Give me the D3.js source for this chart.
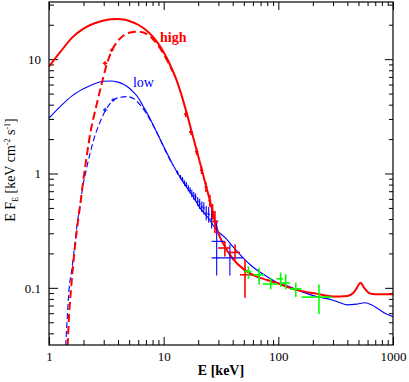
<!DOCTYPE html>
<meta charset="utf-8">
<style>
body { margin: 0; background: #fff; }
svg text { font-family: "Liberation Serif", "Times New Roman", serif; fill: #000; }
.axis path { display: none; }
.axis line { stroke: #000; stroke-width: 1; }
.axis text { font-size: 13px; font-family: "Liberation Serif", serif; }
</style>
<svg id="chart"></svg>
<script src="https://d3js.org/d3.v7.min.js"></script>
<script>

// model curves: [E (keV), E F_E]
var highModel = [[1,8.6],[1.25,11.5],[1.6,15.5],[2,18.5],[2.5,20.6],[3,21.8],[3.5,22.3],[4,22.4],
  [4.5,22.2],[5,21.6],[6,20.0],[7,18.0],[8,15.8],[9,13.6],[10,11.5],[11,9.6],[12,7.9],[13,6.5],
  [14,5.2],[15.6,3.6],[17.3,2.45],[19.4,1.6],[21.4,1.1],[23.4,0.78],[24.5,0.66],[26,0.52],[28,0.38],
  [30,0.30],[33,0.245],[40,0.18],[50,0.145],[60,0.13],[80,0.117],[100,0.109],[126,0.1],[150,0.095],
  [215,0.089],[300,0.084],[400,0.085],[450,0.09],[490,0.102],[520,0.111],[560,0.1],[620,0.09],
  [700,0.088],[1000,0.088]];
var highAbsorbed = [[1.4,0.015],[1.45,0.03],[1.5,0.06],[1.56,0.1],[1.6,0.135],[1.7,0.25],[1.8,0.4],
  [1.9,0.6],[2,0.9],[2.15,1.5],[2.3,2.3],[2.45,3.1],[2.6,4.0],[2.88,6.1],[3.19,9.0],[3.52,11.8],
  [4,14.5],[4.5,16.2],[5.1,17.1],[6,17.4],[7,16.7],[8,15.1],[9,13.1],[10,11.1],[11,9.3],[12,7.8]];
var lowModel = [[1,3.05],[1.25,3.85],[1.6,4.8],[2,5.5],[2.5,6.1],[3,6.4],[3.4,6.45],[4,6.3],[4.5,6.0],
  [5,5.6],[5.5,5.1],[6,4.6],[6.6,3.9],[7.5,3.1],[8.5,2.4],[10,1.72],[12,1.2],[14,0.92],[16,0.75],
  [18,0.63],[20.7,0.5],[24.4,0.41],[29,0.32],[35,0.27],[40,0.23],[50,0.18],[56.5,0.16],[80,0.125],
  [100,0.11],[126,0.102],[150,0.095],[215,0.084],[300,0.078],[346,0.074],[400,0.071],[480,0.072],
  [570,0.074],[650,0.071],[750,0.065],[850,0.06],[1000,0.056]];
var lowAbsorbed = [[1.35,0.015],[1.4,0.0316],[1.45,0.06],[1.5,0.1],[1.58,0.144],[1.685,0.246],
  [1.765,0.37],[1.86,0.515],[1.95,0.72],[2.1,1.05],[2.3,1.55],[2.5,2.1],[2.7,2.6],[3.08,3.5],
  [3.62,4.35],[4.2,4.65],[4.8,4.7],[5.5,4.5],[6.2,4.0],[7,3.4],[8,2.7],[9,2.15],[10,1.7],[11,1.4],[12,1.18]];

// data: [E, Elo, Ehi, value, vlo, vhi]
var highData = [[3.08,2.95,3.22,9.2,8.8,9.6],[3.52,3.4,3.65,12.0,11.6,12.4],
  [15.6,15.0,16.2,3.3,3.1,3.5],[17.3,16.6,18.0,2.3,2.17,2.45],[19.4,18.7,20.1,1.55,1.45,1.66],
  [21.4,20.7,22.1,1.07,0.99,1.16],[23.4,22.7,24.1,0.76,0.69,0.84],[25.3,24.5,26.0,0.58,0.51,0.65],
  [26.7,26.0,27.5,0.46,0.4,0.54],[28,26.2,29.9,0.38,0.3,0.47],[34.2,29.9,37.8,0.223,0.188,0.255],
  [41.9,37.8,46.3,0.204,0.176,0.239],[51.2,46.3,60.4,0.13,0.082,0.176]];
var lowData = [[3.08,2.95,3.22,3.6,3.45,3.75],[3.62,3.5,3.75,4.4,4.25,4.55],
  [13.2,12.9,13.5,1.02,0.98,1.06],[14.0,13.7,14.3,0.93,0.89,0.97],[14.6,14.3,14.9,0.88,0.84,0.93],
  [15.2,14.9,15.5,0.82,0.78,0.87],[15.8,15.5,16.1,0.79,0.75,0.84],[16.4,16.1,16.7,0.74,0.7,0.79],
  [17.0,16.7,17.3,0.71,0.67,0.76],[17.6,17.3,17.9,0.67,0.62,0.72],[18.3,18.0,18.6,0.64,0.59,0.69],
  [19.0,18.7,19.3,0.62,0.57,0.67],[19.8,19.4,20.2,0.57,0.52,0.62],[20.6,20.2,21.0,0.54,0.49,0.6],
  [21.5,21.0,22.0,0.51,0.46,0.57],[22.4,22.0,22.9,0.5,0.44,0.56],[23.5,22.9,24.1,0.45,0.39,0.52],
  [24.7,24.1,25.4,0.44,0.37,0.51],[26.2,25.4,27.0,0.4,0.33,0.48],[29,26.2,34.2,0.255,0.128,0.39],
  [37.8,26.2,49.4,0.183,0.128,0.239]];
var hardData = [[54.8,50.5,58.5,0.139,0.12,0.154],[68,61,75,0.13,0.107,0.149],
  [85.8,73.3,99,0.108,0.097,0.123],[104.9,96,110,0.12,0.102,0.136],[116,106,126,0.11,0.097,0.131],
  [142,126,159,0.098,0.083,0.111],[226,160,292,0.083,0.059,0.107]];

var xMajor = [1, 10, 100, 1000],
    xLabels = ["1", "10", "100", "1000"],
    yMajor = [0.1, 1, 10],
    yLabels = ["0.1", "1", "10"];

var width = 409, height = 382,
    margin = {top: 2, right: 16, bottom: 37, left: 49},
    w = width - margin.left - margin.right,
    h = height - margin.top - margin.bottom;

var x = d3.scaleLog().domain([1, 1000]).range([0, w]);
var y = d3.scaleLog().domain([Math.pow(10, -1.5), Math.pow(10, 1.5)]).range([h, 0]);

var svg = d3.select("#chart").attr("width", width).attr("height", height);
var g = svg.append("g").attr("transform", "translate(" + margin.left + "," + margin.top + ")");

g.append("clipPath").attr("id", "clip")
  .append("rect").attr("width", w).attr("height", h);

function minors(lo, hi) {
  var out = [];
  for (var d = lo; d < hi; d *= 10)
    for (var k = 2; k <= 9; k++) out.push(d * k);
  return out;
}
var xMinor = minors(1, 1000);
var yMinor = minors(0.01, 100).filter(function(v) { return v > y.domain()[0] && v < y.domain()[1]; });

// major ticks with labels
g.append("g").attr("class", "axis").attr("transform", "translate(0," + h + ")")
  .call(d3.axisBottom(x).tickValues(xMajor).tickFormat(function(d, i) { return xLabels[i]; })
    .tickSizeInner(-8).tickSizeOuter(0).tickPadding(7));
g.append("g").attr("class", "axis")
  .call(d3.axisLeft(y).tickValues(yMajor).tickFormat(function(d, i) { return yLabels[i]; })
    .tickSizeInner(-9).tickSizeOuter(0).tickPadding(8));
g.append("g").attr("class", "axis")
  .call(d3.axisTop(x).tickValues(xMajor).tickFormat("").tickSizeInner(-8).tickSizeOuter(0));
g.append("g").attr("class", "axis").attr("transform", "translate(" + w + ",0)")
  .call(d3.axisRight(y).tickValues(yMajor).tickFormat("").tickSizeInner(-8).tickSizeOuter(0));
// minor ticks
g.append("g").attr("class", "axis").attr("transform", "translate(0," + h + ")")
  .call(d3.axisBottom(x).tickValues(xMinor).tickFormat("").tickSizeInner(-5).tickSizeOuter(0));
g.append("g").attr("class", "axis")
  .call(d3.axisTop(x).tickValues(xMinor).tickFormat("").tickSizeInner(-4).tickSizeOuter(0));
g.append("g").attr("class", "axis")
  .call(d3.axisLeft(y).tickValues(yMinor).tickFormat("").tickSizeInner(-5).tickSizeOuter(0));
g.append("g").attr("class", "axis").attr("transform", "translate(" + w + ",0)")
  .call(d3.axisRight(y).tickValues(yMinor).tickFormat("").tickSizeInner(-4).tickSizeOuter(0));

var line = d3.line()
    .x(function(d) { return x(d[0]); })
    .y(function(d) { return y(d[1]); })
    .curve(d3.curveMonotoneX);

var plot = g.append("g").attr("clip-path", "url(#clip)");

function drawCurve(data, color, sw, dash) {
  plot.append("path").datum(data)
    .attr("d", line)
    .attr("fill", "none")
    .attr("stroke", color)
    .attr("stroke-width", sw)
    .attr("stroke-dasharray", dash);
}
drawCurve(lowAbsorbed, "#0000ff", 1.1, "6,3");
drawCurve(lowModel, "#0000ff", 1.1, null);
drawCurve(highAbsorbed, "#ff0000", 2, "8,4");
drawCurve(highModel, "#ff0000", 2, null);

function drawData(data, color, sw) {
  var pt = plot.append("g").selectAll("g").data(data).enter().append("g")
    .attr("stroke", color).attr("stroke-width", sw);
  pt.append("line")
    .attr("x1", function(d) { return x(d[1]); })
    .attr("x2", function(d) { return x(d[2]); })
    .attr("y1", function(d) { return y(d[3]); })
    .attr("y2", function(d) { return y(d[3]); });
  pt.append("line")
    .attr("x1", function(d) { return x(d[0]); })
    .attr("x2", function(d) { return x(d[0]); })
    .attr("y1", function(d) { return y(d[4]); })
    .attr("y2", function(d) { return y(d[5]); });
}
drawData(lowData, "#0000ff", 1.1);
drawData(highData, "#ff0000", 1.6);
drawData(hardData, "#00ff00", 1.6);

// frame
g.append("rect").attr("width", w).attr("height", h)
  .attr("fill", "none").attr("stroke", "#000").attr("stroke-width", 1.2);

// curve labels
g.append("text").attr("x", x(9.3)).attr("y", 40)
  .style("fill", "#ff0000")
  .attr("font-size", 14).attr("font-weight", "bold").text("high");
g.append("text").attr("x", x(5.4)).attr("y", 85)
  .style("fill", "#0000ff").attr("font-size", 14).text("low");

// axis titles
svg.append("text").attr("x", margin.left + w / 2).attr("y", 375)
  .attr("text-anchor", "middle").attr("font-size", 14).attr("font-weight", "bold").text("E [keV]");

var yt = svg.append("text")
  .attr("transform", "translate(15,170) rotate(-90)")
  .attr("text-anchor", "middle").attr("font-size", 14);
yt.append("tspan").text("E F");
yt.append("tspan").attr("font-size", 8).attr("dy", 3).text("E");
yt.append("tspan").attr("dy", -3).text(" [keV cm");
yt.append("tspan").attr("font-size", 8).attr("dy", -5).text("-2");
yt.append("tspan").attr("dy", 5).text(" s");
yt.append("tspan").attr("font-size", 8).attr("dy", -5).text("-1");
yt.append("tspan").attr("dy", 5).text("]");

</script>
